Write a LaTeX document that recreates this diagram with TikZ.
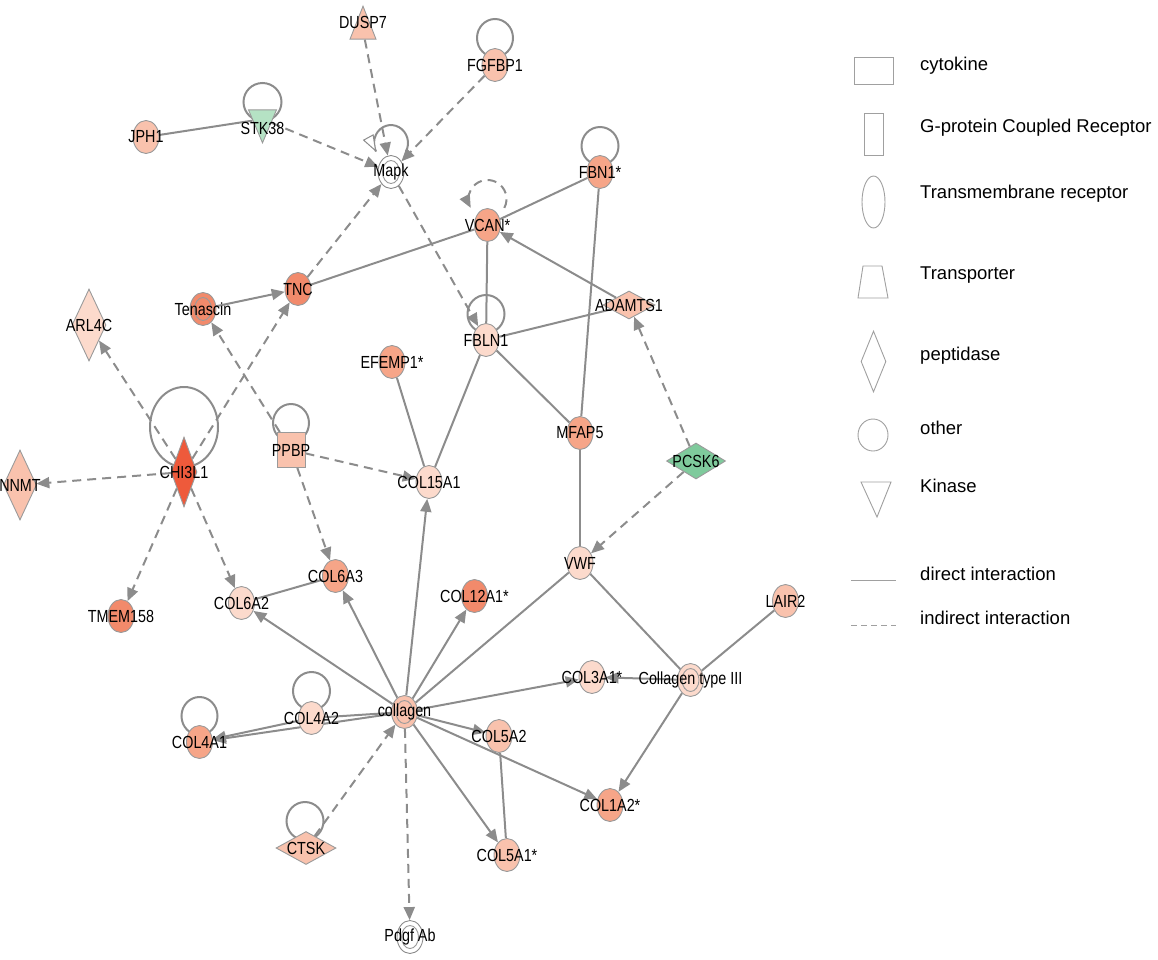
\documentclass[tikz,border=0pt]{standalone}
\usepackage{fontspec}
\setmainfont{Liberation Sans}
\newfontfamily\labfont[FakeStretch=0.82]{Liberation Sans}
\usetikzlibrary{arrows.meta,shapes.geometric,backgrounds}

\definecolor{rim}{HTML}{9A9A9A}
\definecolor{wire}{HTML}{8C8C8C}
\definecolor{keyline}{HTML}{A0A0A0}
\definecolor{up1}{HTML}{FCDACC}
\definecolor{up2}{HTML}{F9C2AD}
\definecolor{up3}{HTML}{F6A588}
\definecolor{up4}{HTML}{F28A6B}
\definecolor{up5}{HTML}{EE5A3B}
\definecolor{down1}{HTML}{B5E2C4}
\definecolor{down2}{HTML}{7FCA9C}

\tikzset{
  gene/.style={ellipse,draw=rim,line width=0.9pt,fill=#1,minimum width=26,minimum height=33,inner sep=0},
  group/.style={gene=#1,path picture={\draw[rim,line width=0.9pt] (path picture bounding box.center) ellipse [x radius=8.5pt,y radius=11.5pt];}},
  cytokine/.style={rectangle,draw=rim,line width=0.9pt,fill=#1,minimum width=28,minimum height=35,inner sep=0},
  peptidase/.style={diamond,draw=rim,line width=0.9pt,fill=#1,inner sep=0},
  transporter/.style={isosceles triangle,isosceles triangle stretches,shape border rotate=90,draw=rim,line width=0.9pt,fill=#1,minimum width=26,minimum height=33,inner sep=0},
  kinase/.style={isosceles triangle,isosceles triangle stretches,shape border rotate=270,draw=rim,line width=0.9pt,fill=#1,minimum width=28,minimum height=33,inner sep=0},
  lab/.style={font=\labfont\fontsize{17.5pt}{17.5pt}\selectfont,inner sep=0},
  link/.style={draw=wire,line width=2pt},
  act/.style={link,-{Triangle[length=13pt,width=11pt]}},
  ind/.style={link,dash pattern=on 9pt off 6pt},
  indact/.style={ind,-{Triangle[length=13pt,width=11pt]}},
  keyshape/.style={draw=keyline,line width=0.9pt,fill=white,inner sep=0},
  keytext/.style={anchor=west,font=\fontsize{18.5pt}{20pt}\selectfont,inner sep=0}
}

\begin{document}
\begin{tikzpicture}[x=1pt,y=-1pt]
\useasboundingbox (0,0) rectangle (1158,959);

% molecules
\node[transporter=up2,anchor=apex] (DUSP7) at (363,5) {};
\node[lab] (DUSP7txt) at (363,22) {DUSP7};
\node[gene=up2,label={[lab]center:FGFBP1}] (FGFBP1) at (495,65) {};
\node[gene=up2,label={[lab]center:JPH1}] (JPH1) at (146,137) {};
\node[kinase=down1,anchor=apex] (STK38) at (262.5,144) {};
\node[lab] (STK38txt) at (262.5,128) {STK38};
\node[group=white,draw=wire,label={[lab]center:Mapk}] (Mapk) at (391,172) {};
\node[gene=up3,label={[lab]center:VCAN*}] (VCAN) at (487.5,225) {};
\node[gene=up3,label={[lab]center:FBN1*}] (FBN1) at (600,172) {};
\node[gene=up4,label={[lab]center:TNC}] (TNC) at (298,289) {};
\node[group=up4,label={[lab]center:Tenascin}] (Tenascin) at (203,309) {};
\node[peptidase=up1,minimum width=34,minimum height=72,label={[lab]center:ARL4C}] (ARL4C) at (89,325) {};
\node[gene=up1,label={[lab]center:FBLN1}] (FBLN1) at (486,340) {};
\node[peptidase=up2,minimum width=52,minimum height=28,label={[lab]center:ADAMTS1}] (ADAMTS1) at (629,305) {};
\node[gene=up3,label={[lab]center:EFEMP1*}] (EFEMP1) at (392,362) {};
\node[gene=up3,label={[lab]center:MFAP5}] (MFAP5) at (580,433) {};
\node[peptidase=down2,minimum width=59,minimum height=36,label={[lab]center:PCSK6}] (PCSK6) at (696,461) {};
\node[gene=up1,label={[lab]center:COL15A1}] (COL15A1) at (429,482) {};
\node[cytokine=up2,label={[lab]center:PPBP}] (PPBP) at (291,450) {};
\node[peptidase=up5,minimum width=26,minimum height=70,label={[lab]center:CHI3L1}] (CHI3L1) at (184,472) {};
\node[peptidase=up2,minimum width=33,minimum height=70,label={[lab]center:NNMT}] (NNMT) at (20,485) {};
\node[gene=up4,label={[lab]center:TMEM158}] (TMEM158) at (121,616) {};
\node[gene=up1,label={[lab]center:COL6A2}] (COL6A2) at (241.5,603) {};
\node[gene=up3,label={[lab]center:COL6A3}] (COL6A3) at (335.5,576) {};
\node[gene=up4,label={[lab]center:COL12A1*}] (COL12A1) at (474.5,596) {};
\node[gene=up1,label={[lab]center:VWF}] (VWF) at (580,563) {};
\node[gene=up2,label={[lab]center:LAIR2}] (LAIR2) at (785.5,601) {};
\node[gene=up1,label={[lab]center:COL3A1*}] (COL3A1) at (592,677) {};
\node[group=up1,label={[lab]center:Collagen type III}] (Coll3) at (690.5,680) {};
\node[group=up2,label={[lab]center:collagen}] (collagen) at (404.5,712) {};
\node[gene=up1,label={[lab]center:COL4A2}] (COL4A2) at (311.5,718) {};
\node[gene=up3,label={[lab]center:COL4A1}] (COL4A1) at (199.5,742) {};
\node[gene=up2,label={[lab]center:COL5A2}] (COL5A2) at (499,736) {};
\node[gene=up3,label={[lab]center:COL1A2*}] (COL1A2) at (610,805) {};
\node[peptidase=up2,minimum width=60,minimum height=33,label={[lab]center:CTSK}] (CTSK) at (306,848) {};
\node[gene=up2,label={[lab]center:COL5A1*}] (COL5A1) at (507,855) {};
\node[group=white,draw=wire,label={[lab]center:Pdgf Ab}] (PdgfAb) at (410,937) {};

% interactions
\begin{pgfonlayer}{background}
\path
  (JPH1) edge[link] (STK38)
  (STK38) edge[indact] (Mapk)
  (DUSP7) edge[indact] (Mapk)
  (FGFBP1) edge[indact] (Mapk)
  (TNC) edge[indact] (Mapk)
  (Mapk) edge[indact] (FBLN1)
  (TNC) edge[link] (VCAN)
  (FBN1) edge[link] (VCAN)
  (ADAMTS1) edge[act] (VCAN)
  (VCAN) edge[link] (FBLN1)
  (FBLN1) edge[link] (ADAMTS1)
  (FBLN1) edge[link] (MFAP5)
  (FBLN1) edge[link] (COL15A1)
  (FBN1) edge[link] (MFAP5)
  (EFEMP1) edge[link] (COL15A1)
  (PCSK6) edge[indact] (ADAMTS1)
  (PCSK6) edge[indact] (VWF)
  (MFAP5) edge[link] (VWF)
  (Tenascin) edge[act] (TNC)
  (PPBP) edge[indact] (Tenascin)
  (PPBP) edge[indact] (COL15A1)
  (PPBP) edge[indact] (COL6A3)
  (CHI3L1) edge[indact] (ARL4C)
  (CHI3L1) edge[indact] (TNC)
  (CHI3L1) edge[indact] (NNMT)
  (CHI3L1) edge[indact] (TMEM158)
  (CHI3L1) edge[indact] (COL6A2)
  (COL6A2) edge[link] (COL6A3)
  (collagen) edge[act] (COL6A2)
  (collagen) edge[act] (COL6A3)
  (collagen) edge[act] (COL15A1)
  (collagen) edge[act] (COL12A1)
  (collagen) edge[link] (VWF)
  (collagen) edge[act] (COL3A1)
  (collagen) edge[act] (COL5A2)
  (collagen) edge[act] (COL1A2)
  (collagen) edge[act] (COL5A1)
  (collagen) edge[link] (COL4A2)
  (collagen) edge[act] (COL4A1)
  (COL4A2) edge[act] (COL4A1)
  (COL5A2) edge[link] (COL5A1)
  (CTSK) edge[indact] (collagen)
  (collagen) edge[indact] (PdgfAb)
  (VWF) edge[link] (Coll3)
  (LAIR2) edge[link] (Coll3)
  (Coll3) edge[act] (COL3A1)
  (Coll3) edge[act] (COL1A2);

% self loops
\draw[link] (FGFBP1.center) ++(0,-27) ellipse [x radius=18,y radius=19];
\draw[link] (STK38txt.center) ++(0,-26) ellipse [x radius=19,y radius=19];
\draw[link] (Mapk.center) ++(15,-20.5) arc [start angle=28,end angle=-208,x radius=17,y radius=18];
\end{pgfonlayer}
\draw[link,line width=1pt,-{Triangle[length=17pt,width=12pt,fill=white]}] (Mapk.center) ++(-17,-29) arc [start angle=180,end angle=150,x radius=17,y radius=18];
\begin{pgfonlayer}{background}
\draw[indact] (VCAN.center) ++(16.8,-17.1) arc [start angle=28,end angle=-208,radius=19];
\draw[link] (FBN1.center) ++(0,-26) ellipse [x radius=18.5,y radius=19];
\draw[link] (FBLN1.center) ++(0,-26) ellipse [x radius=18.5,y radius=19];
\draw[link] (PPBP.center) ++(0,-27) ellipse [x radius=18,y radius=19];
\draw[link] (CHI3L1.center) ++(0,-45) ellipse [x radius=34,y radius=40];
\draw[link] (COL4A2.center) ++(0,-27) ellipse [x radius=18.5,y radius=19];
\draw[link] (COL4A1.center) ++(0,-26) ellipse [x radius=18,y radius=19];
\draw[link] (CTSK.center) ++(-1,-27) ellipse [x radius=18.5,y radius=19];
\end{pgfonlayer}

% legend
\node[keyshape,rectangle,minimum width=39,minimum height=27] (keyCyt) at (873.5,70.5) {};
\node[keytext] (txtCyt) at (920,66) {cytokine};
\node[keyshape,rectangle,minimum width=19,minimum height=42] (keyGpcr) at (873.5,134) {};
\node[keytext] (txtGpcr) at (920,128) {G-protein Coupled Receptor};
\node[keyshape,ellipse,minimum width=23,minimum height=52] (keyTm) at (873.5,202) {};
\node[keytext] (txtTm) at (920,194) {Transmembrane receptor};
\draw[keyline,line width=0.9pt] (858,298) -- (863,266) -- (882,266) -- (888,298) -- cycle;
\node[keytext] (txtTr) at (920,275) {Transporter};
\node[keyshape,diamond,minimum width=25,minimum height=61] (keyPep) at (873.5,361.5) {};
\node[keytext] (txtPep) at (920,356) {peptidase};
\node[keyshape,ellipse,minimum width=30,minimum height=32] (keyOth) at (873,435) {};
\node[keytext] (txtOth) at (920,428) {other};
\draw[keyline,line width=0.9pt] (861,482) -- (891,482) -- (877,517) -- cycle;
\node[keytext] (txtKin) at (920,486) {Kinase};
\coordinate (dirA) at (851,580);
\coordinate (dirB) at (896,580);
\draw[keyline,line width=1pt] (dirA) -- (dirB);
\node[keytext] (txtDir) at (920,574) {direct interaction};
\coordinate (indA) at (851,625);
\coordinate (indB) at (896,625);
\draw[keyline,line width=1pt,dash pattern=on 6pt off 4pt] (indA) -- (indB);
\node[keytext] (txtInd) at (920,618) {indirect interaction};
\end{tikzpicture}
\end{document}
